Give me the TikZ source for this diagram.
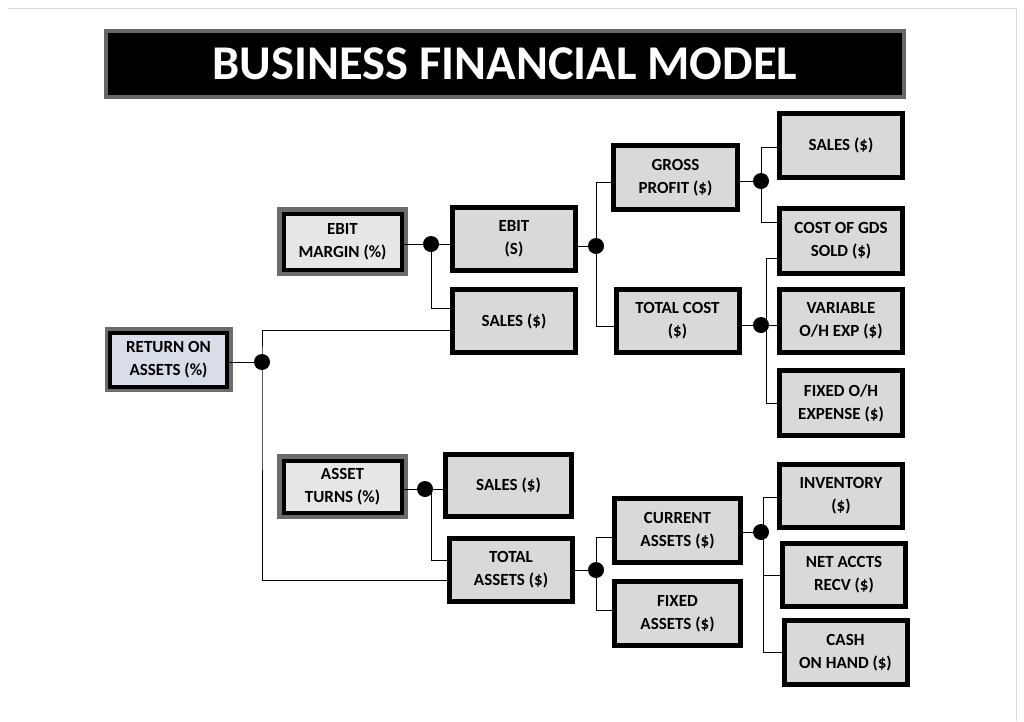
\documentclass[tikz,border=0pt]{standalone}
\usepackage{fontspec}
\setmainfont{Carlito}
\begin{document}
\begin{tikzpicture}[x=1pt,y=-1pt,
  box/.style={draw=black,line width=5pt,fill=boxgray,minimum width=123pt,minimum height=63pt,
    align=center,inner sep=0pt,font=\bfseries\fontsize{17}{23}\selectfont},
  gbox/.style={box,line width=4pt,minimum width=118pt,minimum height=56pt},
  ln/.style={line width=0.8pt},
  dot/.style={circle,fill=black,minimum size=16pt,inner sep=0pt}]
\definecolor{boxgray}{RGB}{217,217,217}
\definecolor{lgray}{RGB}{230,230,230}
\definecolor{lblue}{RGB}{217,221,232}
\useasboundingbox (0,0) rectangle (1024,721);
\draw[gray!30] (8,8) -- (1016,8) -- (1016,721);
% title
\node[fill=black,draw=gray!80!black,line width=4pt,minimum width=798pt,minimum height=66pt,
  text=white,font=\bfseries\fontsize{48.5}{50}\selectfont] (title) at (505,64) {BUSINESS FINANCIAL MODEL};
% gray-shadow boxes
\fill[gray!85!black] (105,327) rectangle (233,392);
\node[gbox,fill=lblue,minimum width=117pt,minimum height=54pt] (roa) at (168.5,359.5) {RETURN ON\\ASSETS (\%)};
\fill[gray!85!black] (277,207) rectangle (408,276);
\node[gbox,fill=lgray] (em) at (342.5,241.5) {EBIT\\MARGIN (\%)};
\fill[gray!85!black] (277,454) rectangle (408,519);
\node[gbox,fill=lgray,minimum height=52pt] (at) at (342.5,486.5) {ASSET\\TURNS (\%)};
% main boxes
\node[box] (ebit) at (514,239) {EBIT\\(S)};
\node[box] (s1) at (514,321) {SALES (\$)};
\node[box,minimum width=124pt,minimum height=64pt] (gp) at (675.5,177.5) {GROSS\\PROFIT (\$)};
\node[box] (tc) at (677.5,321) {TOTAL COST\\(\$)};
\node[box,minimum height=64pt] (s2) at (841,145.5) {SALES (\$)};
\node[box,minimum height=65pt] (cogs) at (841,241) {COST OF GDS\\SOLD (\$)};
\node[box] (var) at (841,321) {VARIABLE\\O/H EXP (\$)};
\node[box,minimum height=65pt] (fix) at (841,403) {FIXED O/H\\EXPENSE (\$)};
\node[box,minimum width=126pt,minimum height=62pt] (s3) at (508.5,485.5) {SALES (\$)};
\node[box] (ta) at (511,570) {TOTAL\\ASSETS (\$)};
\node[box,minimum width=126pt,minimum height=64pt] (ca) at (677.5,530.5) {CURRENT\\ASSETS (\$)};
\node[box,minimum width=126pt,minimum height=64pt] (fa) at (677.5,613.5) {FIXED\\ASSETS (\$)};
\node[box] (inv) at (841,496) {INVENTORY\\(\$)};
\node[box] (nar) at (844,575) {NET ACCTS\\RECV (\$)};
\node[box,minimum height=64pt] (cash) at (845.5,652.5) {CASH\\ON HAND (\$)};
% junction dots
\node[dot] (d1) at (262,362) {};
\node[dot] (d2) at (431,244) {};
\node[dot] (d3) at (596,246) {};
\node[dot] (d4) at (761,181) {};
\node[dot] (d5) at (761,325) {};
\node[dot] (d6) at (425,489) {};
\node[dot] (d7) at (596,570) {};
\node[dot] (d8) at (761,532) {};
% connectors
\draw[ln] (roa.east |- d1) -- (d1.center);
\draw[ln] (s1.west |- 0,330) -| (d1.center) |- (ta.west |- 0,580);
\draw[ln] (em.east |- d2) -- (ebit.west |- d2);
\draw[ln] (d2.center) |- (s1.west |- 0,308);
\draw[ln] (ebit.east |- d3) -- (d3.center);
\draw[ln] (gp.west |- 0,182) -| (d3.center) |- (tc.west |- 0,326);
\draw[ln] (gp.east |- d4) -- (d4.center);
\draw[ln] (s2.west |- 0,147) -| (d4.center) |- (cogs.west |- 0,222);
\draw[ln] (tc.east |- d5) -- (var.west |- d5);
\draw[ln] (cogs.west |- 0,258) -| (766,325) |- (fix.west |- 0,403);
\draw[ln] (at.east |- d6) -- (s3.west |- d6);
\draw[ln] (431,489) |- (ta.west |- 0,560);
\draw[ln] (ta.east |- d7) -- (d7.center);
\draw[ln] (ca.west |- 0,537) -| (d7.center) |- (fa.west |- 0,610);
\draw[ln] (ca.east |- d8) -- (d8.center);
\draw[ln] (inv.west |- 0,497) -| (763,532) |- (cash.west |- 0,652);
\draw[ln] (763,575) -- (nar.west |- 0,575);
\end{tikzpicture}
\end{document}
